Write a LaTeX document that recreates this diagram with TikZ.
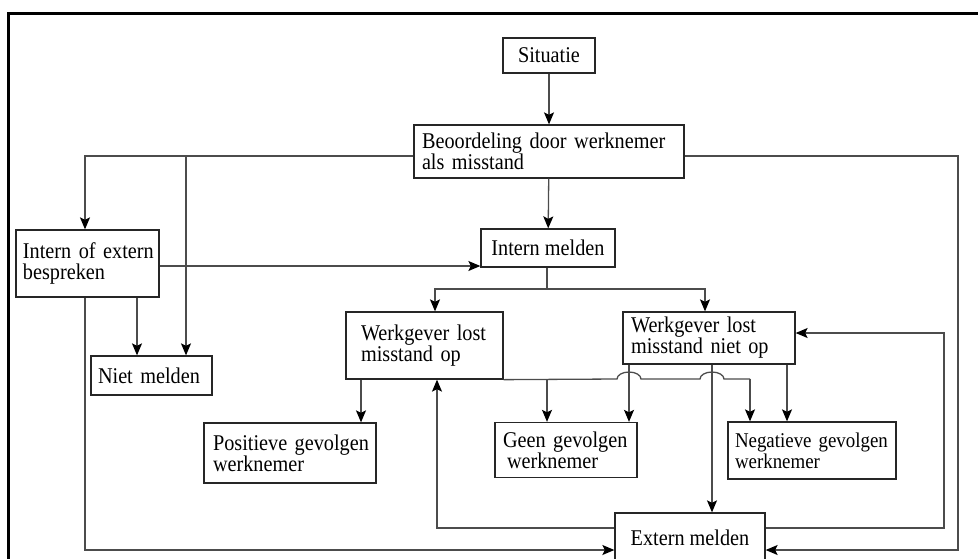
\documentclass[tikz,border=0pt]{standalone}
\usepackage{fontspec}
\setmainfont[FakeStretch=0.9]{Liberation Serif}
\usetikzlibrary{arrows.meta}
\begin{document}
\begin{tikzpicture}
	[x=1pt,y=-1pt,
	every node/.style={font=\fontsize{22.5}{21}\selectfont},
	box/.style={draw=black!85,line width=1.3pt,align=left,inner xsep=0pt,inner ysep=0pt},
	lijn/.style={draw=black!70,line width=1.3pt},
	pijl/.style={lijn,-{Stealth[length=12pt,width=10pt,inset=2.5pt,black]}}
	]
	\useasboundingbox (0,0) rectangle (978,558);
	\clip (0,0) rectangle (978,558);
	% kader
	\draw[line width=3pt] (8.5,570) -- (8.5,13) -- (990,13);
	% blokken
	\node[box,minimum width=92,minimum height=35,align=center] (situatie) at (549,55.5) {Situatie};
	\node[box,minimum width=270,minimum height=53,text width=254] (beoordeling) at (549,151.5) {\mbox{Beoordeling door werknemer}\\als misstand};
	\node[box,minimum width=143,minimum height=67,text width=129] (bespreken) at (87.5,263.5) {\mbox{Intern of extern}\\bespreken};
	\node[box,minimum width=134,minimum height=38,align=center] (intern) at (548,248) {Intern melden};
	\node[box,minimum width=121,minimum height=39,text width=107] (nietmelden) at (151.5,375.5) {Niet melden};
	\node[box,minimum width=157,minimum height=67,text width=127] (lostop) at (424.5,345.5) {\mbox{Werkgever lost}\\\mbox{misstand op}};
	\node[box,minimum width=172,minimum height=52,text width=156] (lostniet) at (709,338) {\mbox{Werkgever lost}\\\mbox{misstand niet op}};
	\node[box,minimum width=172,minimum height=60,text width=154] (positief) at (290,453) {\mbox{Positieve gevolgen}\\werknemer};
	\node[box,minimum width=142,minimum height=55,text width=126] (geen) at (566,450) {\mbox{Geen gevolgen}\\\hspace*{4pt}werknemer};
	\node[box,minimum width=168,minimum height=57,text width=154,font=\fontsize{21}{21}\selectfont] (negatief) at (812,450.5) {\mbox{Negatieve gevolgen}\\werknemer};
	\node[box,minimum width=150,minimum height=50,align=center] (extern) at (690,538) {Extern melden};
	% hulppunten
	\coordinate (splitlinks) at (186,156);
	\coordinate (splitintern) at (547,289);
	\coordinate (splitop) at (547,379);
	\coordinate (rechtsonder) at (958,550);
	\coordinate (rechtsterug) at (944,528);
	% verbindingen
	\draw[pijl] (situatie) -- (beoordeling);
	\draw[pijl] ([yshift=-4.5pt]beoordeling.west) -| (bespreken.north -| 85,0);
	\draw[pijl] (splitlinks) -- (splitlinks |- nietmelden.north);
	\draw[pijl] ([yshift=-4.5pt]beoordeling.east) -| (rechtsonder) -- (extern.east |- rechtsonder);
	\draw[pijl] (beoordeling) -- (intern);
	\draw[pijl] (bespreken.east |- 0,266) -- (intern.west |- 0,266);
	\draw[lijn] (intern.south -| splitintern) -- (splitintern);
	\draw[pijl] (splitintern) -| (lostop.north -| 435,0);
	\draw[pijl] (splitintern) -| (lostniet.north -| 705,0);
	\draw[pijl] (bespreken.south -| 137,0) -- (nietmelden.north -| 137,0);
	\draw[pijl] (bespreken.south -| 85,0) |- (extern.west |- rechtsonder);
	\draw[pijl] (lostop.south -| 361,0) -- (positief.north -| 361,0);
	\draw[lijn] (lostop.south east) -- (617,379) arc[start angle=180,end angle=360,x radius=12,y radius=7]
		-- (700,379) arc[start angle=180,end angle=360,x radius=12,y radius=7] -- (750,379);
	\draw[pijl] (750,379) -- (negatief.north -| 750,0);
	\draw[pijl] (splitop) -- (geen.north -| splitop);
	\draw[pijl] (lostniet.south -| 629,0) -- (geen.north -| 629,0);
	\draw[pijl] (lostniet.south -| 712,0) -- (extern.north -| 712,0);
	\draw[pijl] (lostniet.south -| 787,0) -- (negatief.north -| 787,0);
	\draw[pijl] (extern.west |- 0,528) -| (lostop.south -| 437,0);
	\draw[pijl] (extern.east |- rechtsterug) -| (rechtsterug |- 0,333) -- (lostniet.east |- 0,333);
\end{tikzpicture}
\end{document}
